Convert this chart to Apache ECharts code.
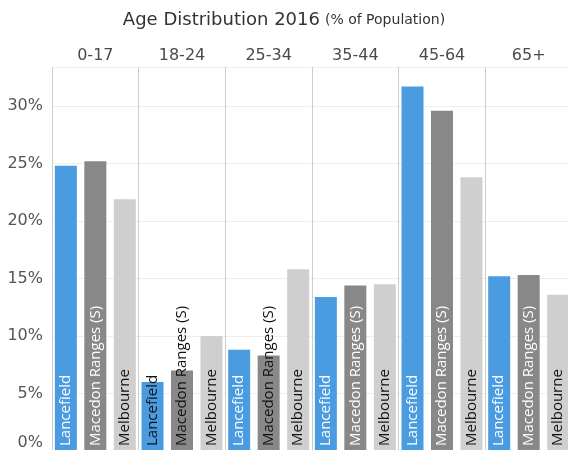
<!DOCTYPE html>
<html>
<head>
<meta charset="utf-8">
<script src="https://cdn.jsdelivr.net/npm/echarts@6/dist/echarts.min.js"></script>
<style>
  html, body { margin: 0; padding: 0; background: #fff; }
  #chart { width: 568px; height: 450px; }
</style>
</head>
<body>
<div id="chart"></div>
<script>
const ageGroups = ['0-17', '18-24', '25-34', '35-44', '45-64', '65+'];
const seriesNames = ['Lancefield', 'Macedon Ranges (S)', 'Melbourne'];
const lancefield = [24.8, 6.0, 8.8, 13.4, 31.7, 15.2];
const macedon = [25.2, 7.0, 8.3, 14.4, 29.6, 15.3];
const melbourne = [21.9, 10.0, 15.8, 14.5, 23.8, 13.6];

const colors = ['#4a9be0', '#888888', '#cfcfcf'];
const labelColors = ['#ffffff', '#ffffff', '#111111'];

const gridTop = 67, gridBottom = -1, yMax = 33.4;
const pxPerPct = (450 - gridTop - gridBottom) / yMax;
const labelFont = '15px "Open Sans"';

const ctx = document.createElement('canvas').getContext('2d');
ctx.font = labelFont;

function buildSeries(name, values, idx) {
  const textW = ctx.measureText(name).width;
  return {
    name: name,
    type: 'bar',
    barWidth: 22,
    barGap: '34%',
    itemStyle: { color: colors[idx] },
    label: {
      show: true,
      position: 'insideBottom',
      rotate: 90,
      align: 'left',
      verticalAlign: 'middle',
      distance: 5,
      formatter: '{a}',
      fontFamily: 'Open Sans',
      fontSize: 15
    },
    data: values.map(v => ({
      value: v,
      // text that does not fit inside the bar is drawn dark
      label: { color: v * pxPerPct >= textW + 6 ? labelColors[idx] : '#111111' }
    }))
  };
}

const chart = echarts.init(document.getElementById('chart'));
chart.setOption({
  animation: false,
  title: {
    text: '{a|Age Distribution 2016} {b|(% of Population)}',
    left: 'center',
    top: 6,
    textStyle: {
      rich: {
        a: { fontFamily: 'DejaVu Sans', fontSize: 18, fontWeight: 'normal', color: '#333' },
        b: { fontFamily: 'DejaVu Sans', fontSize: 14, fontWeight: 'normal', color: '#333' }
      }
    }
  },
  grid: { left: 52, right: -4, top: gridTop, bottom: gridBottom, outerBoundsMode: 'none' },
  xAxis: {
    type: 'category',
    position: 'top',
    data: ageGroups,
    axisLine: { show: true, lineStyle: { color: '#e3e3e3' } },
    axisTick: { show: true, length: 26, interval: 0, lineStyle: { color: '#cccccc' } },
    axisLabel: { margin: 3, fontFamily: 'DejaVu Sans', fontSize: 16, color: '#4a4a4a' },
    splitLine: { show: true, interval: 0, lineStyle: { color: '#cccccc' } }
  },
  yAxis: {
    type: 'value',
    min: 0,
    max: yMax,
    interval: 5,
    axisLine: { show: false },
    axisTick: { show: false },
    axisLabel: {
      showMaxLabel: false,
      margin: 9,
      fontFamily: 'DejaVu Sans',
      fontSize: 16,
      color: '#555',
      formatter: v => (v === 0 ? '0%\n' : v + '%')
    },
    splitLine: { lineStyle: { color: '#eeeeee' } }
  },
  series: [
    buildSeries(seriesNames[0], lancefield, 0),
    buildSeries(seriesNames[1], macedon, 1),
    buildSeries(seriesNames[2], melbourne, 2)
  ]
});
</script>
</body>
</html>
